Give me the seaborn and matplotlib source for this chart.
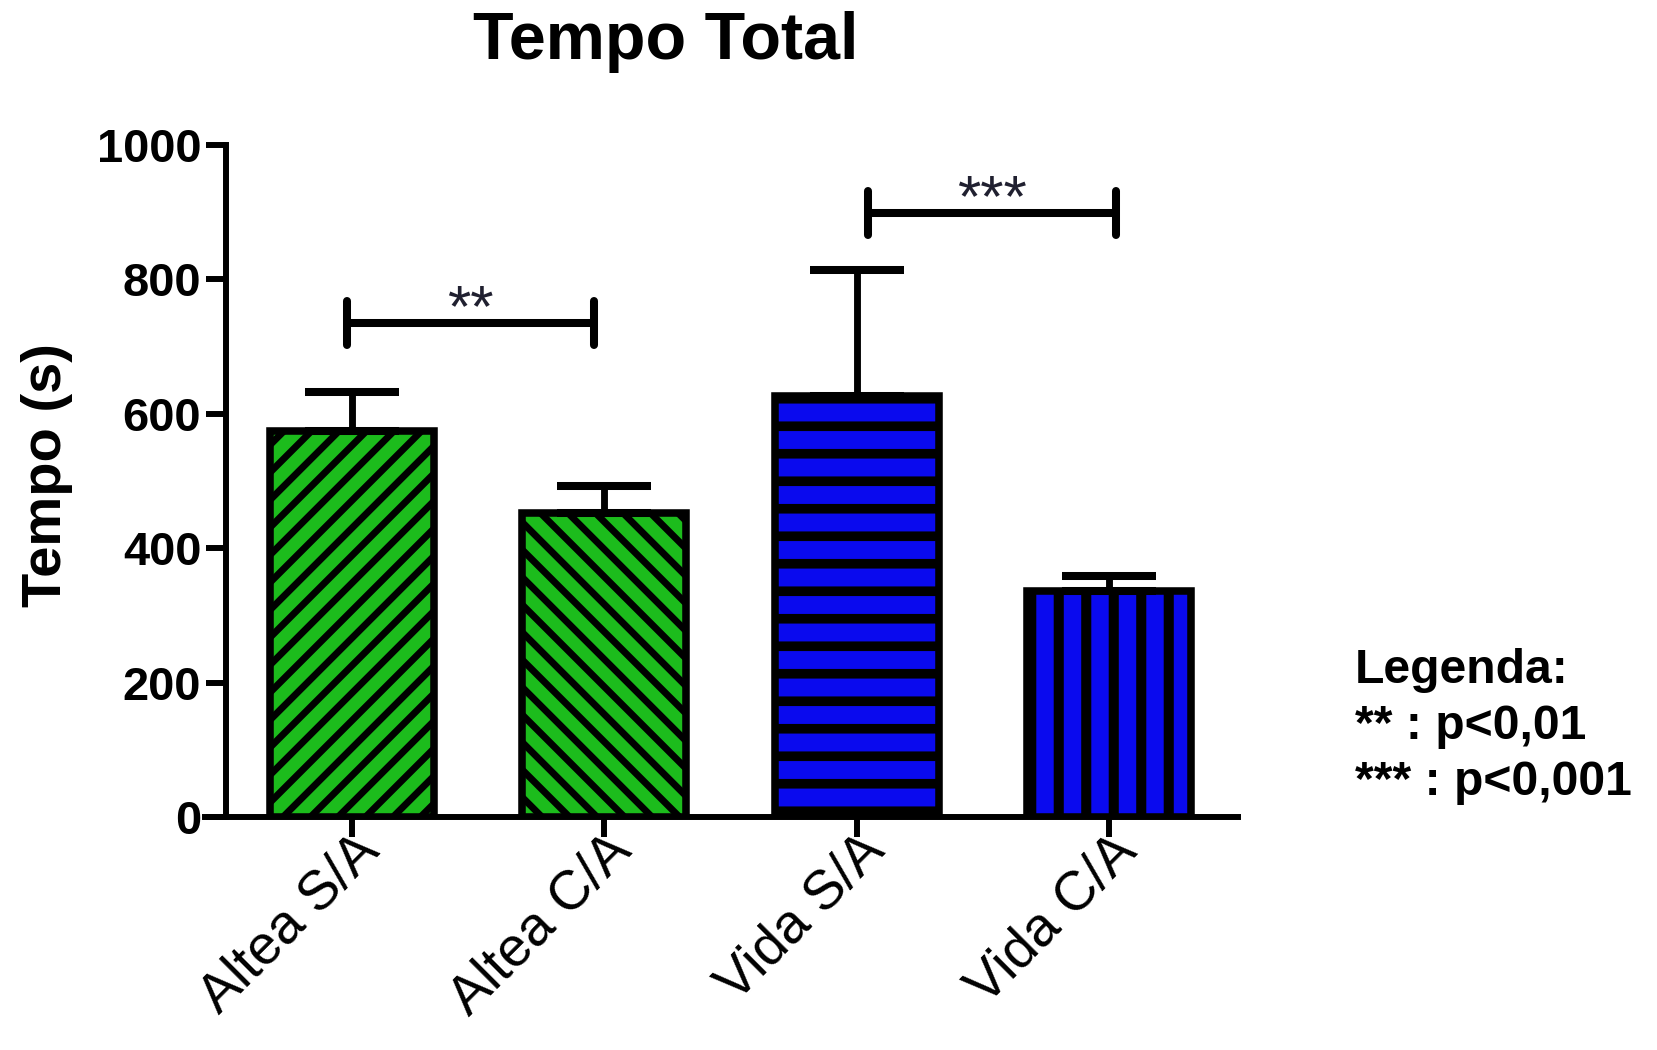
import numpy as np
import pandas as pd
import matplotlib
matplotlib.use("Agg")
import matplotlib.pyplot as plt
import matplotlib.transforms as mtransforms
import seaborn as sns

# ---- data ----
categories = ["Altea S/A", "Altea C/A", "Vida S/A", "Vida C/A"]
means = [575, 452, 627, 337]
sem_upper = [58, 40, 187, 21]
bar_colors = ["#1CBC1C", "#1CBC1C", "#0A0AEE", "#0A0AEE"]
hatches = ["//", "\\\\", "-", "|"]
yticks = [0, 200, 400, 600, 800, 1000]
comparisons = [(0, 1, 735, "**"), (2, 3, 899, "***")]
legend_lines = ["Legenda:", "** : p<0,01", "*** : p<0,001"]
title = "Tempo Total"
ylabel = "Tempo (s)"

# ---- style ----
sns.set_theme(style="ticks")
plt.rcParams["font.family"] = ["Liberation Sans", "DejaVu Sans"]
plt.rcParams["hatch.linewidth"] = 4.0
plt.rcParams["hatch.color"] = "black"

DPI = 165
fig = plt.figure(figsize=(1657 / DPI, 1050 / DPI), dpi=DPI)
ax = fig.add_axes([0.1237, 0.2219, 0.7471 - 0.1237, 0.8619 - 0.2219])

df = pd.DataFrame({"Grupo": categories, "Tempo": means})
sns.barplot(data=df, x="Grupo", y="Tempo", hue="Grupo", palette=bar_colors,
            legend=False, width=0.65, edgecolor="black", linewidth=3.3,
            saturation=1, errorbar=None, ax=ax, zorder=2)

hatch_lw = {"//": 3.0, "\\\\": 3.0, "-": 4.2, "|": 4.4}
for p, h in zip(ax.patches, hatches):
    p.set_hatch(h)
    p.set_edgecolor("black")
    if hasattr(p, "set_hatch_linewidth"):
        p.set_hatch_linewidth(hatch_lw[h])

# upper-only error bars
ax.errorbar(range(len(categories)), means,
            yerr=[np.zeros(len(means)), sem_upper],
            fmt="none", ecolor="black", elinewidth=3.0,
            capsize=20.3, capthick=3.5, zorder=3)

# significance brackets (end offsets relative to the bar centres)
bracket_offsets = [(-0.02, -0.04), (0.045, 0.025)]
tick_h = 33
for (i, j, y, lab), (dl, dr) in zip(comparisons, bracket_offsets):
    x1, x2 = i + dl, j + dr
    ax.plot([x1, x2], [y, y], color="black", lw=3.5, solid_capstyle="butt",
            clip_on=False, zorder=4)
    for xx in (x1, x2):
        ax.plot([xx, xx], [y - tick_h, y + tick_h], color="black", lw=3.5,
                solid_capstyle="round", clip_on=False, zorder=4)
    ax.text((x1 + x2) / 2, y - 5, lab, ha="center", va="baseline",
            fontsize=26, color="#202030", clip_on=False)

# axes styling
ax.set_xlim(-0.582, 3.509)
ax.set_ylim(0, 1000)
ax.spines["top"].set_visible(False)
ax.spines["right"].set_visible(False)
ax.spines["left"].set_position(("data", -0.5))
for s in ("left", "bottom"):
    ax.spines[s].set_linewidth(2.6)
    ax.spines[s].set_color("black")
    ax.spines[s].set_zorder(5)

ax.set_yticks(yticks)
ax.set_yticklabels([str(v) for v in yticks], fontsize=20.5, fontweight="bold")
ax.set_xticks(range(len(categories)))
ax.set_xticklabels(categories, rotation=45, ha="right", fontsize=24)
ax.tick_params(axis="both", length=8.7, width=2.6, color="black",
               direction="out", labelcolor="black")
ax.tick_params(axis="y", pad=2)
ax.tick_params(axis="x", pad=0)
offset = mtransforms.ScaledTranslation(38 / DPI, 12 / DPI, fig.dpi_scale_trans)
for lab in ax.get_xticklabels():
    lab.set_transform(lab.get_transform() + offset)

ax.set_xlabel("")
ax.set_ylabel("")

fig.text(0.402, 0.96, title, ha="center", va="center", fontsize=29,
         fontweight="bold", color="black")
fig.text(0.0285, 0.548, ylabel, rotation=90, ha="center", va="center",
         fontsize=24.5, fontweight="bold", color="black")
fig.text(0.8175, 0.383, "\n".join(legend_lines), ha="left", va="top",
         fontsize=21, fontweight="bold", linespacing=1.32, color="black")

fig.savefig("out.png", dpi=DPI, facecolor="white")
